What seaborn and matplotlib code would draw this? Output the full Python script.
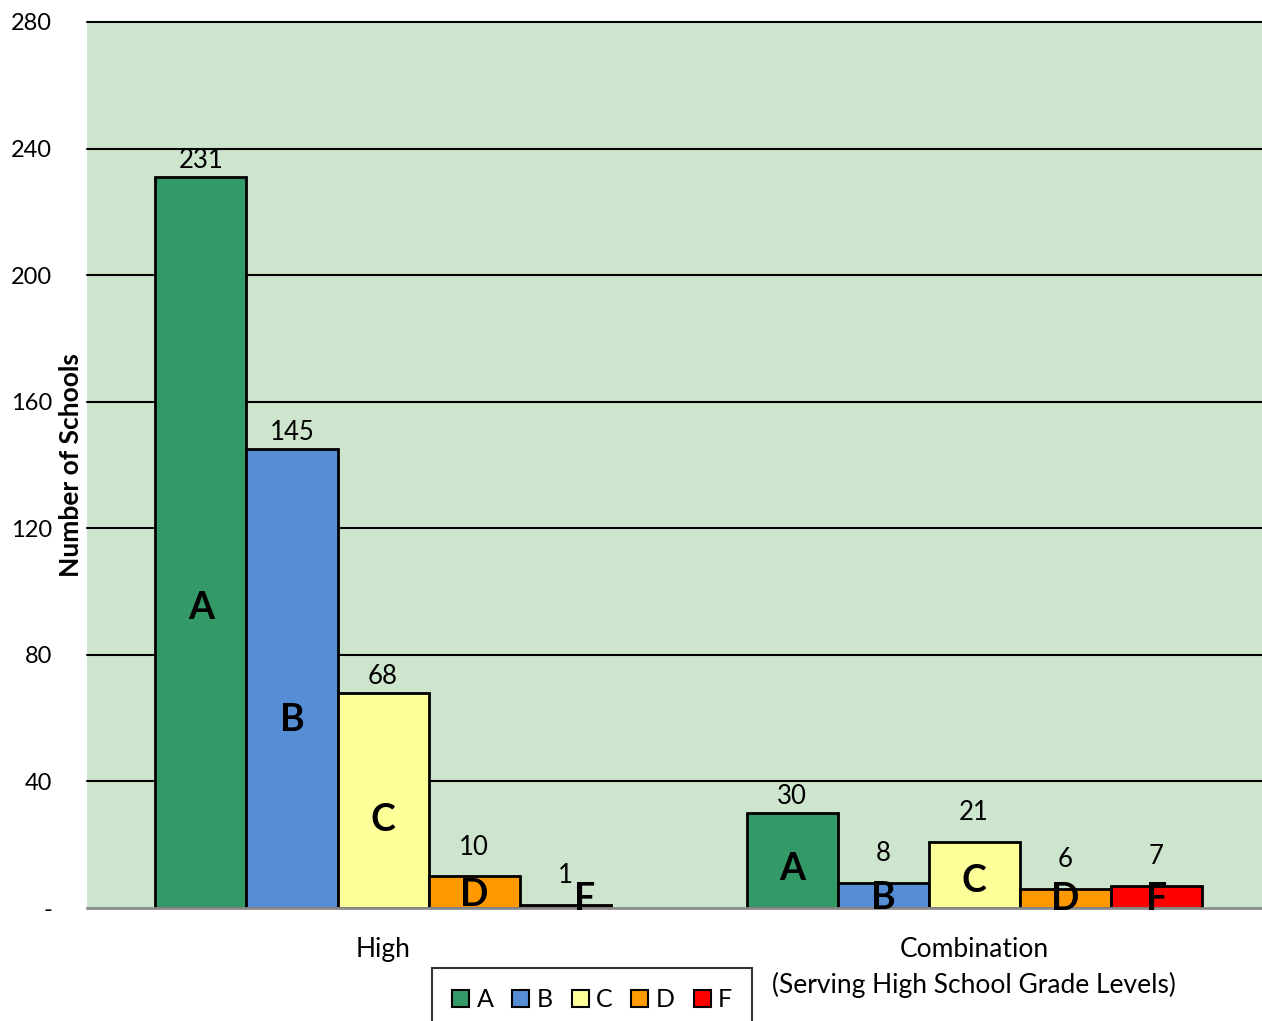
import matplotlib

matplotlib.use("Agg")

import matplotlib.pyplot as plt
import pandas as pd
import seaborn as sns
from matplotlib.patches import Patch

SCHOOL_TYPES = ["High", "Combination\n(Serving High School Grade Levels)"]
GRADES = ["A", "B", "C", "D", "F"]
HIGH_COUNTS = [231, 145, 68, 10, 1]
COMBO_COUNTS = [30, 8, 21, 6, 7]
GRADE_COLORS = ["#339966", "#558ED5", "#FFFF99", "#FF9900", "#FF0000"]
Y_TICKS = [0, 40, 80, 120, 160, 200, 240, 280]
Y_TICK_LABELS = ["-", "40", "80", "120", "160", "200", "240", "280"]

rows = []
for school_type, counts in zip(SCHOOL_TYPES, [HIGH_COUNTS, COMBO_COUNTS]):
    for grade, count in zip(GRADES, counts):
        rows.append({"school_type": school_type, "grade": grade, "count": count})
data = pd.DataFrame(rows)

sns.set_theme(style="white")
plt.rcParams["font.family"] = ["Lato", "DejaVu Sans"]
plt.rcParams["text.color"] = "black"
plt.rcParams["axes.labelcolor"] = "black"
plt.rcParams["xtick.color"] = "black"
plt.rcParams["ytick.color"] = "black"

fig = plt.figure(figsize=(12.62, 10.21), dpi=100)
ax = fig.add_axes([87 / 1262, 113 / 1021, 1175 / 1262, 886 / 1021])
ax.set_facecolor("#CDE5CD")

sns.barplot(
    data=data,
    x="school_type",
    y="count",
    hue="grade",
    hue_order=GRADES,
    palette=GRADE_COLORS,
    saturation=1,
    edgecolor="black",
    linewidth=2,
    width=0.77,
    ax=ax,
    legend=False,
    zorder=3,
)

ax.set_ylim(0, 280)
ax.set_xlim(-0.5008, 1.487)
ax.set_yticks(Y_TICKS)
ax.set_yticklabels(Y_TICK_LABELS, fontsize=17)
ax.tick_params(axis="y", length=0, pad=25)
ax.tick_params(axis="x", length=0, pad=21, labelsize=19)
for label in ax.get_xticklabels():
    label.set_linespacing(1.45)
ax.set_xlabel("")
ax.set_ylabel("Number of Schools", fontsize=19, fontweight="bold")
ax.yaxis.set_label_coords(-0.0034, 0.5)

for y in Y_TICKS[1:]:
    ax.axhline(y, color="black", linewidth=1.5, zorder=1, clip_on=False)
for side in ["top", "right", "left"]:
    ax.spines[side].set_visible(False)
ax.spines["bottom"].set_color("#8C8C8C")
ax.spines["bottom"].set_linewidth(2)
ax.spines["bottom"].set_zorder(4)

for grade, container in zip(GRADES, ax.containers):
    for bar in container:
        h = bar.get_height()
        x = bar.get_x() + bar.get_width() / 2
        ax.annotate(
            f"{h:.0f}",
            (x, h),
            xytext=(0, 3 if h >= 25 else 12),
            textcoords="offset points",
            ha="center",
            va="bottom",
            fontsize=18.5,
            zorder=5,
        )
        if h < 3:
            x += bar.get_width() * 0.22
        ax.text(
            x,
            max(h * 0.41, 3),
            grade,
            ha="center",
            va="center",
            fontsize=27,
            fontweight="bold",
            zorder=6,
        )

handles = [Patch(facecolor=c, edgecolor="black", linewidth=1.5) for c in GRADE_COLORS]
leg = fig.legend(
    handles,
    GRADES,
    loc="upper left",
    bbox_to_anchor=(432 / 1262, 1 - 968 / 1021),
    borderaxespad=0,
    ncol=5,
    fontsize=18,
    handlelength=0.68,
    handleheight=0.68,
    handletextpad=0.3,
    columnspacing=0.75,
    borderpad=0.8,
    frameon=True,
    fancybox=False,
)
leg.get_frame().set_edgecolor("black")
leg.get_frame().set_linewidth(1.5)

fig.savefig("out.png", dpi=100)
